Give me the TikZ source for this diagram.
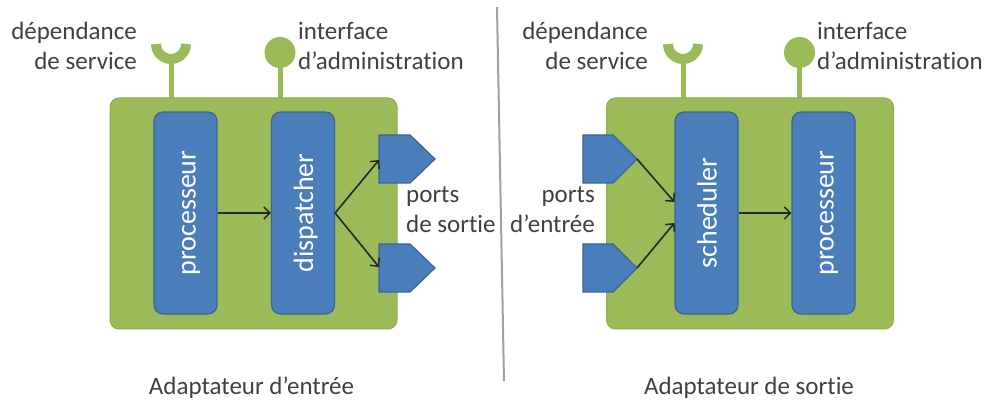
\documentclass[tikz,border=0pt]{standalone}
\usepackage{fontspec}
\setmainfont{Carlito}[Ligatures=NoCommon]
\usetikzlibrary{arrows.meta,calc}
\definecolor{grn}{HTML}{9BBB59}
\definecolor{grnb}{HTML}{8DAD4D}
\definecolor{blu}{HTML}{4A7EBB}
\definecolor{blub}{HTML}{3A6494}
\definecolor{txt}{HTML}{404040}
\definecolor{divc}{HTML}{A0A0A0}
\begin{document}
\begin{tikzpicture}[x=1pt,y=1pt,
  adapter/.style={fill=grn, draw=grnb, line width=1pt, rounded corners=9pt, inner sep=0pt, minimum width=287pt, minimum height=231pt},
  bluebox/.style={fill=blu, draw=blub, line width=1.2pt, rounded corners=9pt, minimum width=63pt, minimum height=202pt, inner sep=0pt},
  boxlabel/.style={rotate=90, text=white, inner sep=0pt, font=\fontsize{28}{34}\selectfont, text height=24pt, text depth=4pt},
  lbl/.style={text=txt, inner sep=0pt, font=\fontsize{25}{30}\selectfont},
  flow/.style={-{Straight Barb[length=6pt,width=12pt,line width=1.5pt]}, line width=1.6pt, black!85},
  stem/.style={grn, line width=5pt},
  cup/.style={grn, line width=10pt},
  port/.style={fill=blu, draw=blub, line width=1.2pt, line join=miter}
]
\useasboundingbox (0,0) rectangle (986,-403);

% ---------------- left: adaptateur d'entree ----------------
\draw[stem] (171,-64) -- (171,-98);
\draw[cup] (156,-44) arc[start angle=180, end angle=360, radius=15];
\draw[stem] (280,-66) -- (280,-98);
\fill[grn] (280,-52.5) circle[radius=15.5];

\node[adapter] (inA) at (253.5,-213.5) {};
\node[bluebox] (procA) at (185.5,-213) {};
\node[boxlabel] (procAT) at (procA) {processeur};
\node[bluebox] (disp) at (303,-213) {};
\node[boxlabel] (dispT) at (disp) {dispatcher};

\draw[port] (379,-135) -- (410,-135) -- (435,-159) -- (410,-183) -- (379,-183) -- cycle;
\draw[port] (379,-244) -- (410,-244) -- (435,-268) -- (410,-292) -- (379,-292) -- cycle;
\coordinate (op1) at (379,-160);
\coordinate (op2) at (379,-267);

\draw[flow] (procA) -- (disp);
\draw[flow] (disp.east) -- (op1);
\draw[flow] (disp.east) -- (op2);

\node[lbl, anchor=base east, align=right] (depA) at (137,-70) {dépendance\\de service};
\node[lbl, anchor=base west, align=left] (admA) at (298,-70) {interface\\d’administration};
\node[lbl, anchor=base west, align=left] (outP) at (406,-233) {ports\\de sortie};
\node[lbl, anchor=base] (capA) at (251.5,-395) {Adaptateur d’entrée};

% ---------------- divider ----------------
\coordinate (divT) at (497,-7);
\coordinate (divB) at (504,-381);
\draw[divc, line width=2pt] (divT) -- (divB);

% ---------------- right: adaptateur de sortie ----------------
\draw[stem] (683,-64) -- (683,-98);
\draw[cup] (668,-44) arc[start angle=180, end angle=360, radius=15];
\draw[stem] (799.5,-66) -- (799.5,-98);
\fill[grn] (799.5,-52.5) circle[radius=15.5];

\node[adapter] (outA) at (750,-213.5) {};
\node[bluebox] (sched) at (706.5,-213) {};
\node[boxlabel] (schedT) at (sched) {scheduler};
\node[bluebox] (procB) at (823.5,-213) {};
\node[boxlabel] (procBT) at (procB) {processeur};

\draw[port] (583,-135) -- (613,-135) -- (637,-159) -- (613,-183) -- (583,-183) -- cycle;
\draw[port] (583,-244) -- (613,-244) -- (637,-268) -- (613,-292) -- (583,-292) -- cycle;
\coordinate (ip1) at (637,-159);
\coordinate (ip2) at (637,-268);

\draw[flow] (ip1) -- ($(sched.west)+(0,11)$);
\draw[flow] (ip2) -- ($(sched.west)+(0,-10)$);
\draw[flow] (sched) -- (procB);

\node[lbl, anchor=base east, align=right] (depB) at (648,-70) {dépendance\\de service};
\node[lbl, anchor=base west, align=left] (admB) at (817,-70) {interface\\d’administration};
\node[lbl, anchor=base east, align=right] (inP) at (595,-233) {ports\\d’entrée};
\node[lbl, anchor=base] (capB) at (749,-395) {Adaptateur de sortie};
\end{tikzpicture}
\end{document}
